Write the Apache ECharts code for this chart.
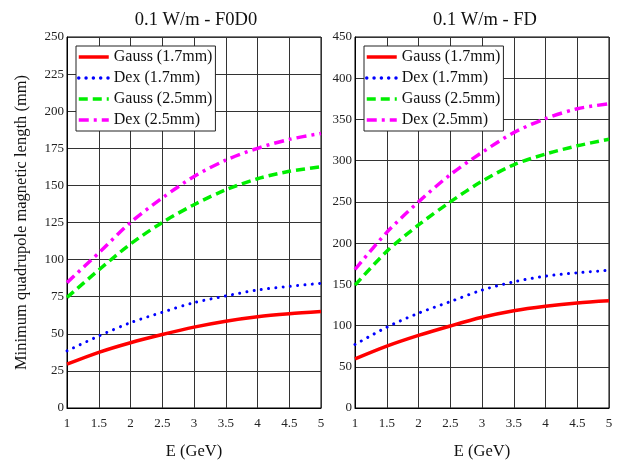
<!DOCTYPE html>
<html>
<head>
<meta charset="utf-8">
<script src="https://cdn.jsdelivr.net/npm/echarts@6/dist/echarts.min.js"></script>
<style>
  html, body { margin: 0; padding: 0; background: #fff; }
  #root { width: 619px; height: 465px; }
</style>
</head>
<body>
<div id="root"></div>
<script>
// energy (GeV)
const energy = [1, 1.5, 2, 2.5, 3, 3.5, 4, 4.5, 5];

// 0.1 W/m - F0D0
const gaussF0D0_17 = [29.5, 37.5, 44, 49.5, 54.5, 58.5, 61.5, 63.5, 65];
const dexF0D0_17 = [38.5, 48.5, 57.5, 64.5, 71, 75.5, 79.5, 82, 84];
const gaussF0D0_25 = [74.5, 93, 110.5, 125, 137, 147, 154.5, 159.5, 162.5];
const dexF0D0_25 = [84.5, 104.5, 125, 141.5, 156, 167, 175, 181, 185];

// 0.1 W/m - FD
const gaussFD_17 = [59.5, 75, 88, 99.5, 110, 118, 123.5, 127.5, 130];
const dexFD_17 = [77, 98, 115, 129, 143, 153, 160, 164, 167];
const gaussFD_25 = [149, 190, 222, 250, 275, 295, 308, 318, 326];
const dexFD_25 = [168, 213, 250, 283, 310, 334, 351, 363, 369];

const names = ["Gauss (1.7mm)", "Dex (1.7mm)", "Gauss (2.5mm)", "Dex (2.5mm)"];
const titles = ["0.1 W/m - F0D0", "0.1 W/m - FD"];

const FONT = "Liberation Serif";

const styles = [
  { color: "#ff0000", width: 3.5, type: "solid", cap: "butt" },
  { color: "#0000ff", width: 3, type: [0.01, 7.3], cap: "round" },
  { color: "#00ee00", width: 3.5, type: [9, 5], cap: "butt" },
  { color: "#ff00ff", width: 3.5, type: [10, 5, 3, 5], cap: "butt" }
];

function pairs(ys) {
  return energy.map((x, i) => [x, ys[i]]);
}

function makeSeries(idx, sets) {
  return sets.map((ys, k) => ({
    name: names[k],
    type: "line",
    xAxisIndex: idx,
    yAxisIndex: idx,
    smooth: 0.3,
    symbol: "none",
    z: 10 - k,
    lineStyle: styles[k],
    itemStyle: { color: styles[k].color },
    data: pairs(ys)
  }));
}

const axisText = { fontFamily: FONT, fontSize: 13, color: "#222" };
const gridLine = { show: true, lineStyle: { color: "#333", width: 1 } };

function xAxis(idx) {
  return {
    type: "value",
    gridIndex: idx,
    min: 1,
    max: 5,
    interval: 0.5,
    name: "E (GeV)",
    nameLocation: "middle",
    nameGap: 35,
    nameTextStyle: { fontFamily: FONT, fontSize: 16.5, color: "#111" },
    axisLine: { show: true, lineStyle: { color: "#000" } },
    axisTick: { show: false },
    axisLabel: Object.assign({ margin: 9 }, axisText),
    splitLine: gridLine
  };
}

function legend(left) {
  return {
    data: names,
    left: left,
    top: 46,
    orient: "vertical",
    itemWidth: 30,
    itemHeight: 16,
    itemGap: 5,
    padding: [3, 3, 3, 1],
    borderColor: "#222",
    borderWidth: 1,
    backgroundColor: "#fff",
    selectedMode: false,
    itemStyle: { opacity: 0 },
    lineStyle: { width: 3.5 },
    textStyle: { fontFamily: FONT, fontSize: 16, color: "#111" }
  };
}

const chart = echarts.init(document.getElementById("root"), null, { renderer: "canvas" });
chart.setOption({
  animation: false,
  backgroundColor: "#fff",
  title: [
    { text: titles[0], left: 191, top: 6, textAlign: "center",
      textStyle: { fontFamily: FONT, fontSize: 18.5, fontWeight: "normal", color: "#111" } },
    { text: titles[1], left: 480, top: 6, textAlign: "center",
      textStyle: { fontFamily: FONT, fontSize: 18.5, fontWeight: "normal", color: "#111" } }
  ],
  legend: [legend(76), legend(364)],
  grid: [
    { left: 67, right: 298, top: 37, bottom: 53, show: true, borderColor: "#000", borderWidth: 1 },
    { left: 355, right: 10, top: 37, bottom: 53, show: true, borderColor: "#000", borderWidth: 1 }
  ],
  xAxis: [xAxis(0), xAxis(1)],
  yAxis: [
    {
      type: "value",
      gridIndex: 0,
      min: 0,
      max: 250,
      interval: 25,
      name: "Minimum quadrupole magnetic length (mm)",
      nameLocation: "middle",
      nameGap: 37,
      nameTextStyle: { fontFamily: FONT, fontSize: 16.5, color: "#111" },
      axisLine: { show: true, lineStyle: { color: "#000" } },
      axisTick: { show: false },
      axisLabel: Object.assign({ margin: 3 }, axisText),
      splitLine: gridLine
    },
    {
      type: "value",
      gridIndex: 1,
      min: 0,
      max: 450,
      interval: 50,
      axisLine: { show: true, lineStyle: { color: "#000" } },
      axisTick: { show: false },
      axisLabel: Object.assign({ margin: 3 }, axisText),
      splitLine: gridLine
    }
  ],
  series: [
    ...makeSeries(0, [gaussF0D0_17, dexF0D0_17, gaussF0D0_25, dexF0D0_25]),
    ...makeSeries(1, [gaussFD_17, dexFD_17, gaussFD_25, dexFD_25])
  ]
});
</script>
</body>
</html>
